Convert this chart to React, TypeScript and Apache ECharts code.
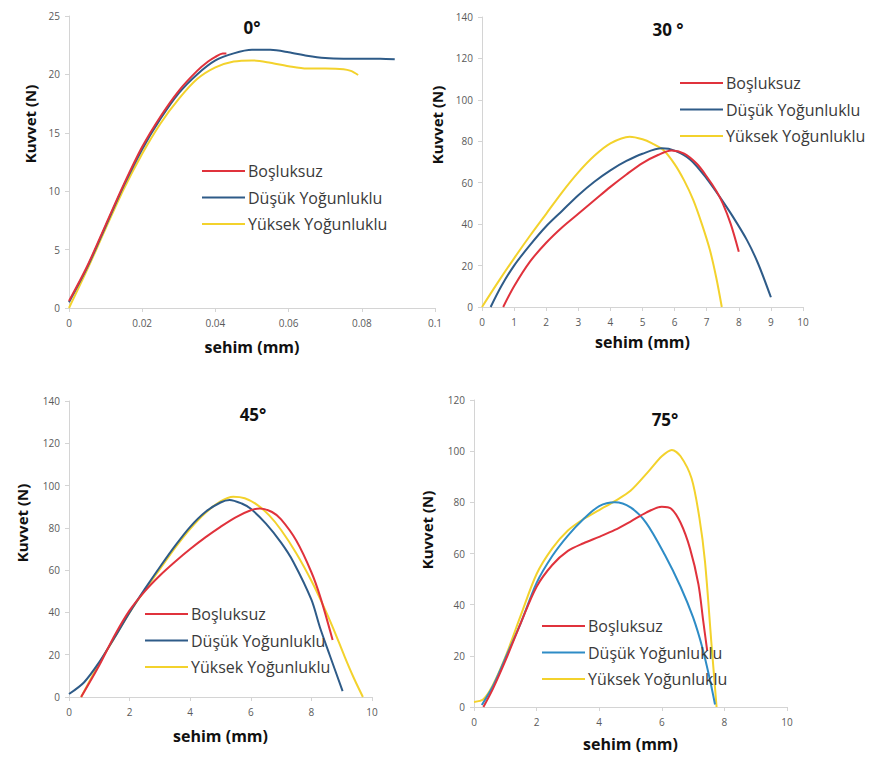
import React, { useEffect, useRef } from 'react';
import * as echarts from 'echarts';

const SERIES_NAMES = ['Boşluksuz', 'Düşük Yoğunluklu', 'Yüksek Yoğunluklu'];
const PANEL_TITLES = ['0°', '30 °', '45°', '75°'];
const X_LABEL = 'sehim (mm)';
const Y_LABEL = 'Kuvvet (N)';

// 0°
const p0Bosluksuz = [[0, 0.6], [0.005, 3.6], [0.01, 7.1], [0.015, 10.6], [0.02, 13.8], [0.025, 16.4], [0.03, 18.6], [0.035, 20.3], [0.038, 21.1], [0.04, 21.5], [0.042, 21.8], [0.043, 21.8]];
const p0Dusuk = [[0, 0.5], [0.005, 3.5], [0.01, 7.0], [0.015, 10.5], [0.02, 13.6], [0.025, 16.2], [0.03, 18.4], [0.035, 20.0], [0.04, 21.2], [0.045, 21.8], [0.05, 22.1], [0.055, 22.1], [0.06, 21.9], [0.065, 21.6], [0.07, 21.4], [0.075, 21.35], [0.08, 21.35], [0.085, 21.35], [0.089, 21.3]];
const p0Yuksek = [[0, 0], [0.005, 3.3], [0.01, 6.8], [0.015, 10.2], [0.02, 13.2], [0.025, 15.8], [0.03, 17.9], [0.035, 19.6], [0.04, 20.6], [0.045, 21.1], [0.05, 21.2], [0.055, 21.0], [0.06, 20.7], [0.065, 20.5], [0.07, 20.5], [0.075, 20.45], [0.077, 20.3], [0.079, 19.95]];

// 30°
const p30Bosluksuz = [[0.66, 0], [1, 10], [1.5, 22], [2, 31], [2.5, 38.5], [3, 45], [3.5, 51.5], [4, 58], [4.5, 64], [5, 69.5], [5.5, 73.5], [5.9, 75.5], [6.3, 74], [6.7, 69], [7, 63], [7.3, 56], [7.5, 50], [7.75, 40], [8, 26.7]];
const p30Dusuk = [[0.27, 0], [0.6, 10], [1, 20], [1.5, 30], [2, 39], [2.5, 46.5], [3, 54], [3.5, 60.5], [4, 66], [4.5, 70.5], [5, 74], [5.6, 76.6], [6, 75.5], [6.5, 71], [7, 62], [7.4, 53.3], [7.8, 44], [8.25, 32.4], [8.6, 21], [9, 4.7]];
const p30Yuksek = [[0, 0], [0.5, 12], [1, 23.5], [1.5, 34.5], [2, 45], [2.5, 55.5], [3, 65], [3.5, 73], [4, 79], [4.6, 82.2], [5, 81], [5.3, 79], [5.65, 75.8], [6, 69], [6.3, 61], [6.58, 51.7], [6.85, 40], [7.1, 27.5], [7.3, 14], [7.47, 0]];

// 45°
const p45Bosluksuz = [[0.4, 0], [1, 15], [1.5, 29], [2, 41], [2.5, 50], [3, 57.5], [3.5, 64], [4, 70], [4.5, 75.5], [5, 80.5], [5.5, 85], [6, 88.3], [6.3, 89.2], [6.7, 87.5], [7, 84], [7.5, 74], [8, 59], [8.3, 47], [8.7, 27]];
const p45Dusuk = [[0, 1.4], [0.5, 7], [1, 16.5], [1.5, 28], [2, 40], [2.5, 51], [3, 61.5], [3.5, 71.5], [4, 80.5], [4.5, 87.5], [5, 92], [5.3, 93.2], [5.7, 91.5], [6, 89], [6.5, 82], [7, 73], [7.4, 64], [8, 46], [8.28, 33], [8.6, 20], [9.03, 2.8]];
const p45Yuksek = [[0.4, 0], [1, 16], [1.5, 28], [2, 40], [2.5, 50.5], [3, 60.5], [3.5, 70.5], [4, 79.5], [4.5, 87], [5, 92.5], [5.42, 94.7], [5.8, 94], [6.2, 91], [6.6, 86], [7, 79], [7.5, 68], [8, 55], [8.4, 43], [8.72, 32.5], [9.1, 19], [9.4, 9], [9.7, 0]];

// 75°
const p75Bosluksuz = [[0.3, 0], [0.6, 7], [1, 18], [1.5, 33], [2, 47], [2.5, 55.5], [3, 61], [3.5, 64], [4, 66.5], [4.5, 69.2], [5, 72.5], [5.5, 76], [6, 78.3], [6.3, 77.5], [6.6, 72], [6.9, 62], [7.17, 48], [7.32, 34], [7.45, 22]];
const p75Dusuk = [[0.25, 0.8], [0.6, 8], [1, 19], [1.5, 33], [2, 48.5], [2.5, 59], [3, 67], [3.5, 73.5], [4, 78.5], [4.5, 80], [5, 78], [5.5, 72], [6.1, 59.4], [6.6, 47], [7, 35], [7.3, 23], [7.55, 10], [7.7, 1]];
const p75Yuksek = [[0, 2], [0.3, 3], [0.6, 8.5], [1, 19.5], [1.5, 36], [2, 52], [2.5, 62], [3, 69], [3.5, 73.5], [4, 77], [4.5, 80.5], [5, 84.5], [5.57, 92], [6, 98], [6.32, 100.5], [6.6, 98], [6.95, 89.4], [7.2, 74], [7.38, 56.8], [7.59, 24.2], [7.75, 0]];

const PANEL_DATA = [
  [p0Bosluksuz, p0Dusuk, p0Yuksek],
  [p30Bosluksuz, p30Dusuk, p30Yuksek],
  [p45Bosluksuz, p45Dusuk, p45Yuksek],
  [p75Bosluksuz, p75Dusuk, p75Yuksek],
];

const X_MAX = [0.1, 10, 10, 10];
const X_INTERVAL = [0.02, 1, 2, 2];
const Y_MAX = [25, 140, 140, 120];
const Y_INTERVAL = [5, 20, 20, 20];

const RED = '#e0323c';
const BLUE_DARK = '#2e5b88';
const BLUE_LIGHT = '#2e8cc6';
const YELLOW = '#f3d22c';
const PANEL_COLORS = [
  [RED, BLUE_DARK, YELLOW],
  [RED, BLUE_DARK, YELLOW],
  [RED, BLUE_DARK, YELLOW],
  [RED, BLUE_LIGHT, YELLOW],
];

const FONT = '"Open Sans", "Noto Sans", sans-serif';

const GRIDS = [
  { left: 69, top: 16, width: 366, height: 292 },
  { left: 482, top: 17, width: 321, height: 290 },
  { left: 69, top: 401, width: 303, height: 296 },
  { left: 474, top: 400, width: 313, height: 307 },
];
const TITLE_POS = [[247, 14], [663, 16], [248, 401], [660, 406]];
const LEGEND_POS = [[202, 162], [680, 74], [145, 605], [542, 617]];
const YNAME_POS = [[30, 124], [437, 125], [22, 523], [427, 530]];
const XNAME_GAP = [31, 27, 31, 29];

export default function App() {
  const ref = useRef<HTMLDivElement>(null);

  useEffect(() => {
    if (!ref.current) return;
    const chart = echarts.init(ref.current, undefined, { renderer: 'svg' });

    const axisLine = { show: true, lineStyle: { color: '#d4d4d4', width: 1 } };
    const axisTick = { show: true, length: 4, lineStyle: { color: '#d4d4d4' } };
    const axisLabel = { color: '#5a5a5a', fontSize: 10, fontFamily: FONT };

    const series: any[] = [];
    PANEL_DATA.forEach((panel, pi) => {
      panel.forEach((data, si) => {
        series.push({
          type: 'line',
          name: SERIES_NAMES[si],
          xAxisIndex: pi,
          yAxisIndex: pi,
          data,
          smooth: 0.3,
          showSymbol: false,
          symbol: 'none',
          lineStyle: { width: 2, color: PANEL_COLORS[pi][si] },
          itemStyle: { color: PANEL_COLORS[pi][si] },
          z: si === 2 ? 1 : si === 1 ? 2 : 3,
        });
      });
    });

    const option: any = {
      animation: false,
      backgroundColor: '#ffffff',
      title: PANEL_TITLES.map((t, i) => ({
        text: t,
        left: TITLE_POS[i][0],
        top: TITLE_POS[i][1],
        textAlign: 'center',
        textStyle: { fontFamily: FONT, fontSize: 17, fontWeight: 'bold', color: '#111' },
      })),
      grid: GRIDS.map((g) => ({ ...g, containLabel: false })),
      xAxis: GRIDS.map((_, i) => ({
        type: 'value',
        gridIndex: i,
        min: 0,
        max: X_MAX[i],
        interval: X_INTERVAL[i],
        axisLine,
        axisTick,
        axisLabel: { ...axisLabel, margin: 10 },
        splitLine: { show: false },
        name: X_LABEL,
        nameLocation: 'middle',
        nameGap: XNAME_GAP[i],
        nameTextStyle: { fontFamily: FONT, fontSize: 16, fontWeight: 'bold', color: '#111' },
      })),
      yAxis: GRIDS.map((_, i) => ({
        type: 'value',
        gridIndex: i,
        min: 0,
        max: Y_MAX[i],
        interval: Y_INTERVAL[i],
        axisLine,
        axisTick,
        axisLabel: { ...axisLabel, margin: 9 },
        splitLine: { show: false },
      })),
      legend: LEGEND_POS.map((p, i) => ({
        left: p[0],
        top: p[1],
        padding: 0,
        orient: 'vertical',
        icon: 'rect',
        itemWidth: 43,
        itemHeight: 2,
        itemGap: 8.5,
        selectedMode: false,
        textStyle: { fontFamily: FONT, fontSize: 16, color: '#3a3a3a', lineHeight: 18, padding: [0, 0, 0, -2] },
        data: SERIES_NAMES.map((n, si) => ({ name: n, itemStyle: { color: PANEL_COLORS[i][si] } })),
      })),
      graphic: YNAME_POS.map((p) => ({
        type: 'text',
        x: p[0],
        y: p[1],
        rotation: Math.PI / 2,
        style: {
          text: Y_LABEL,
          fontFamily: FONT,
          fontSize: 15,
          fontWeight: 'bold',
          fill: '#111',
          align: 'center',
          verticalAlign: 'middle',
        },
      })),
      series,
    };

    chart.setOption(option);
    return () => chart.dispose();
  }, []);

  return (
    <div
      ref={ref}
      style={{ position: 'fixed', left: 0, top: 0, width: 870, height: 760, background: '#fff' }}
    />
  );
}
